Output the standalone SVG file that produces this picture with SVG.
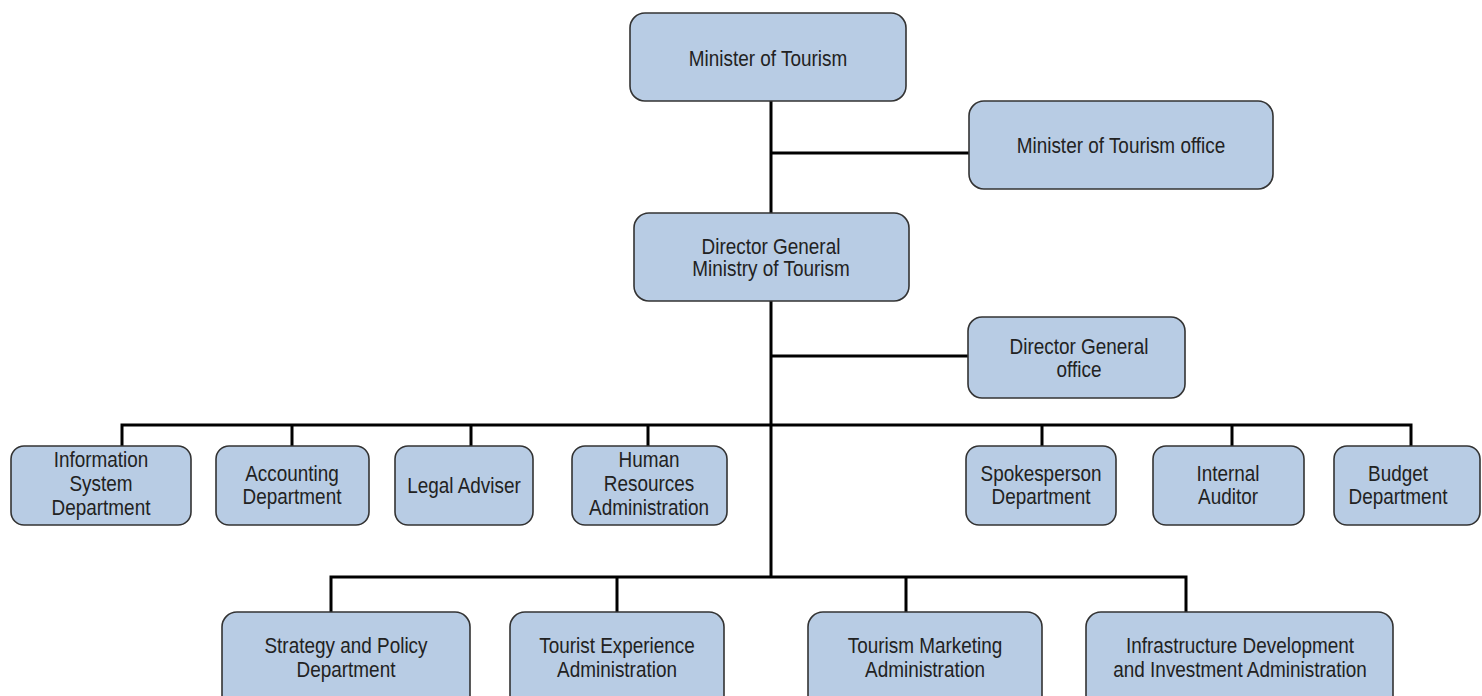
<svg xmlns="http://www.w3.org/2000/svg" width="1482" height="696" viewBox="0 0 1482 696">
<style>
.box{fill:#b8cce4;stroke:#333333;stroke-width:1.6}
.t{font-family:"Liberation Sans",Arial,sans-serif;font-size:21.5px;fill:#222222;text-anchor:middle}
.c{stroke:#000000;stroke-width:3;fill:none}
</style>
<rect width="1482" height="696" fill="#ffffff"/>
<g id="connectors">
<path class="c" d="M771 101V577"/>
<path class="c" d="M771 153H969"/>
<path class="c" d="M771 356H968"/>
<path class="c" d="M122 446V425H1411V446"/>
<path class="c" d="M292 425V446M471 425V446M648 425V446M1042 425V446M1232 425V446"/>
<path class="c" d="M331 612V577H1186V612"/>
<path class="c" d="M617 577V612M906 577V612"/>
</g>
<g id="minister"><rect class="box" x="630" y="13" width="276" height="88" rx="15"/><text class="t" transform="translate(768,66) scale(0.88,1)">Minister of Tourism</text></g>
<g id="minister-office"><rect class="box" x="969" y="101" width="304" height="88" rx="15"/><text class="t" transform="translate(1121,153) scale(0.88,1)">Minister of Tourism office</text></g>
<g id="director-general"><rect class="box" x="634" y="213" width="275" height="88" rx="15"/><text class="t" transform="translate(771,254) scale(0.88,1)">Director General</text><text class="t" transform="translate(771,276) scale(0.88,1)">Ministry of Tourism</text></g>
<g id="dg-office"><rect class="box" x="968" y="317" width="217" height="81" rx="14"/><text class="t" transform="translate(1079,354) scale(0.88,1)">Director General</text><text class="t" transform="translate(1079,377) scale(0.88,1)">office</text></g>
<g id="info-system"><rect class="box" x="11" y="446" width="180" height="79" rx="13"/><text class="t" transform="translate(101,467) scale(0.88,1)">Information</text><text class="t" transform="translate(101,491) scale(0.88,1)">System</text><text class="t" transform="translate(101,515) scale(0.88,1)">Department</text></g>
<g id="accounting"><rect class="box" x="216" y="446" width="153" height="79" rx="13"/><text class="t" transform="translate(292,481) scale(0.88,1)">Accounting</text><text class="t" transform="translate(292,504) scale(0.88,1)">Department</text></g>
<g id="legal"><rect class="box" x="395" y="446" width="138" height="79" rx="13"/><text class="t" transform="translate(464,493) scale(0.88,1)">Legal Adviser</text></g>
<g id="hr"><rect class="box" x="572" y="446" width="155" height="79" rx="13"/><text class="t" transform="translate(649,467) scale(0.88,1)">Human</text><text class="t" transform="translate(649,491) scale(0.88,1)">Resources</text><text class="t" transform="translate(649,515) scale(0.88,1)">Administration</text></g>
<g id="spokesperson"><rect class="box" x="966" y="446" width="150" height="79" rx="13"/><text class="t" transform="translate(1041,481) scale(0.88,1)">Spokesperson</text><text class="t" transform="translate(1041,504) scale(0.88,1)">Department</text></g>
<g id="internal-auditor"><rect class="box" x="1153" y="446" width="151" height="79" rx="13"/><text class="t" transform="translate(1228,481) scale(0.88,1)">Internal</text><text class="t" transform="translate(1228,504) scale(0.88,1)">Auditor</text></g>
<g id="budget"><rect class="box" x="1334" y="446" width="146" height="79" rx="13"/><text class="t" transform="translate(1398,481) scale(0.88,1)">Budget</text><text class="t" transform="translate(1398,504) scale(0.88,1)">Department</text></g>
<g id="strategy"><rect class="box" x="222" y="612" width="248" height="100" rx="15"/><text class="t" transform="translate(346,653) scale(0.88,1)">Strategy and Policy</text><text class="t" transform="translate(346,677) scale(0.88,1)">Department</text></g>
<g id="tourist-experience"><rect class="box" x="510" y="612" width="214" height="100" rx="15"/><text class="t" transform="translate(617,653) scale(0.88,1)">Tourist Experience</text><text class="t" transform="translate(617,677) scale(0.88,1)">Administration</text></g>
<g id="tourism-marketing"><rect class="box" x="808" y="612" width="234" height="100" rx="15"/><text class="t" transform="translate(925,653) scale(0.88,1)">Tourism Marketing</text><text class="t" transform="translate(925,677) scale(0.88,1)">Administration</text></g>
<g id="infrastructure"><rect class="box" x="1086" y="612" width="307" height="100" rx="15"/><text class="t" transform="translate(1240,653) scale(0.88,1)">Infrastructure Development</text><text class="t" transform="translate(1240,677) scale(0.88,1)">and Investment Administration</text></g>
</svg>
